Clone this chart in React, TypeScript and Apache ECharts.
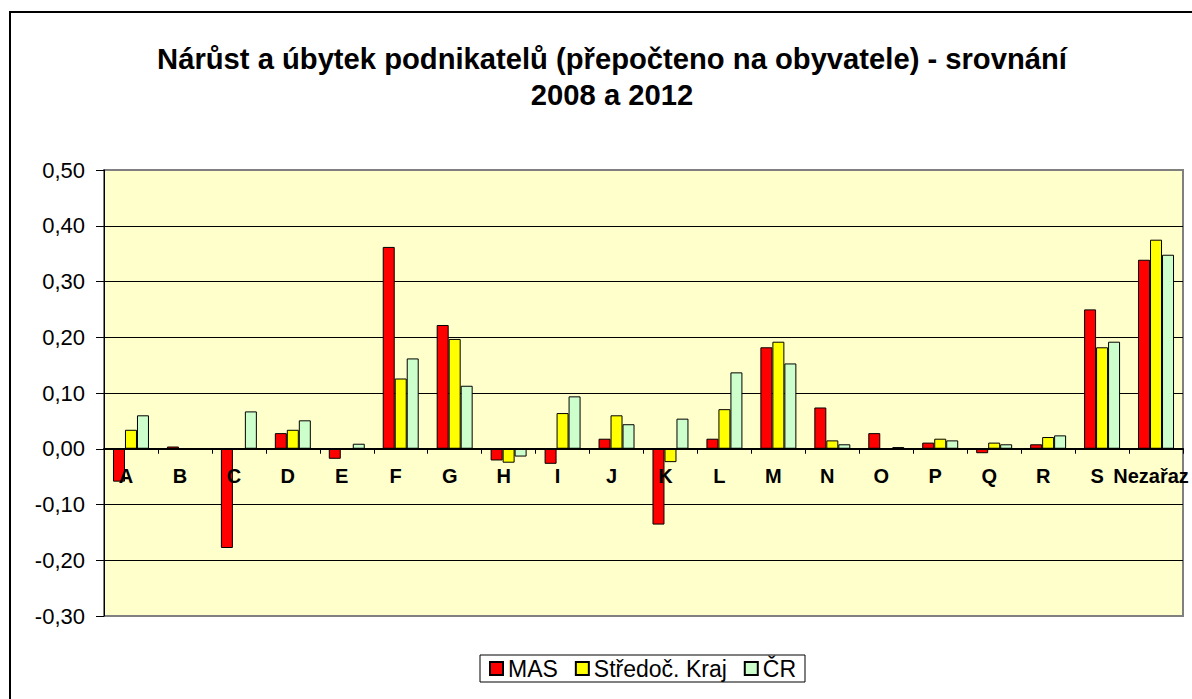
import React, { useEffect, useRef } from "react";
import * as echarts from "echarts";

const categories = ["A", "B", "C", "D", "E", "F", "G", "H", "I", "J", "K", "L", "M", "N", "O", "P", "Q", "R", "S", "Nezařaz"];
const masValues = [-0.059, 0.004, -0.178, 0.028, -0.018, 0.362, 0.222, -0.021, -0.027, 0.018, -0.136, 0.018, 0.182, 0.074, 0.028, 0.011, -0.008, 0.008, 0.25, 0.339];
const stredocValues = [0.034, 0, 0, 0.034, 0, 0.126, 0.197, -0.025, 0.064, 0.06, -0.024, 0.071, 0.192, 0.015, 0, 0.018, 0.011, 0.021, 0.182, 0.375];
const crValues = [0.06, 0, 0.067, 0.051, 0.009, 0.162, 0.113, -0.014, 0.094, 0.044, 0.054, 0.137, 0.153, 0.008, 0.003, 0.015, 0.008, 0.024, 0.192, 0.348];
const seriesNames = ["MAS", "Středoč. Kraj", "ČR"];
const titleText = "Nárůst a úbytek podnikatelů (přepočteno na obyvatele) - srovnání\n2008 a 2012";
const yMin = -0.3;
const yMax = 0.5;

const FONT = "'Liberation Sans', Arial, sans-serif";

export default function App() {
  const ref = useRef<HTMLDivElement>(null);
  useEffect(() => {
    if (!ref.current) return;
    const chart = echarts.init(ref.current, null, { renderer: "svg" });
    const barStyle = (color: string) => ({ color, borderColor: "#000", borderWidth: 1 });
    const gridTop = 170;
    const gridHeight = 446;
    // move the category axis up to the zero line
    const zeroOffset = -(gridHeight * (0 - yMin)) / (yMax - yMin);
    chart.setOption({
      animation: false,
      backgroundColor: "#fff",
      textStyle: { fontFamily: FONT },
      title: {
        text: titleText,
        left: 607,
        top: 36,
        textAlign: "center",
        textStyle: { fontFamily: FONT, fontWeight: "bold", fontSize: 29.2, lineHeight: 36, color: "#000" },
      },
      graphic: [
        {
          type: "rect",
          shape: { x: 10, y: 12, width: 1400, height: 900 },
          style: { fill: "none", stroke: "#000", lineWidth: 2 },
          silent: true,
          z: -1,
        },
      ],
      legend: {
        data: seriesNames,
        left: 480,
        top: 655,
        orient: "horizontal",
        itemWidth: 13,
        itemHeight: 13,
        itemGap: 17,
        padding: [2, 9, 2, 9],
        borderColor: "#000",
        borderWidth: 1,
        backgroundColor: "#fff",
        icon: "rect",
        textStyle: { fontFamily: FONT, fontSize: 23, color: "#000" },
      },
      grid: {
        left: 104,
        right: 9,
        top: gridTop,
        height: gridHeight,
        show: true,
        backgroundColor: "#FFFFCC",
        borderColor: "#808080",
        borderWidth: 2,
      },
      xAxis: {
        type: "category",
        data: categories,
        position: "bottom",
        offset: zeroOffset,
        z: 5,
        axisLine: { onZero: false, lineStyle: { color: "#000", width: 2 } },
        axisTick: { show: true, interval: 0, length: 5, lineStyle: { color: "#000", width: 1 } },
        axisLabel: {
          interval: 0,
          margin: 17,
          fontFamily: FONT,
          fontWeight: "bold",
          fontSize: 20,
          color: "#000",
          padding: [0, 10, 0, 0],
        },
        splitLine: { show: false },
      },
      yAxis: {
        type: "value",
        min: yMin,
        max: yMax,
        interval: 0.1,
        axisLine: { show: true, lineStyle: { color: "#000", width: 1 } },
        axisTick: { show: true, length: 8, lineStyle: { color: "#000" } },
        axisLabel: {
          margin: 19,
          fontFamily: FONT,
          fontSize: 22,
          color: "#000",
          formatter: (v: number) => v.toFixed(2).replace(".", ","),
        },
        splitLine: { show: true, showMinLine: false, showMaxLine: false, lineStyle: { color: "#000", width: 1 } },
      },
      series: [
        { name: seriesNames[0], type: "bar", data: masValues, itemStyle: barStyle("#FF0000"), barGap: "0%", barCategoryGap: "33.3%" },
        { name: seriesNames[1], type: "bar", data: stredocValues, itemStyle: barStyle("#FFFF00"), barGap: "0%", barCategoryGap: "33.3%" },
        { name: seriesNames[2], type: "bar", data: crValues, itemStyle: barStyle("#CCFFCC"), barGap: "0%", barCategoryGap: "33.3%" },
      ],
    });
    return () => chart.dispose();
  }, []);
  return <div ref={ref} style={{ position: "fixed", left: 0, top: 0, width: 1192, height: 699 }} />;
}
